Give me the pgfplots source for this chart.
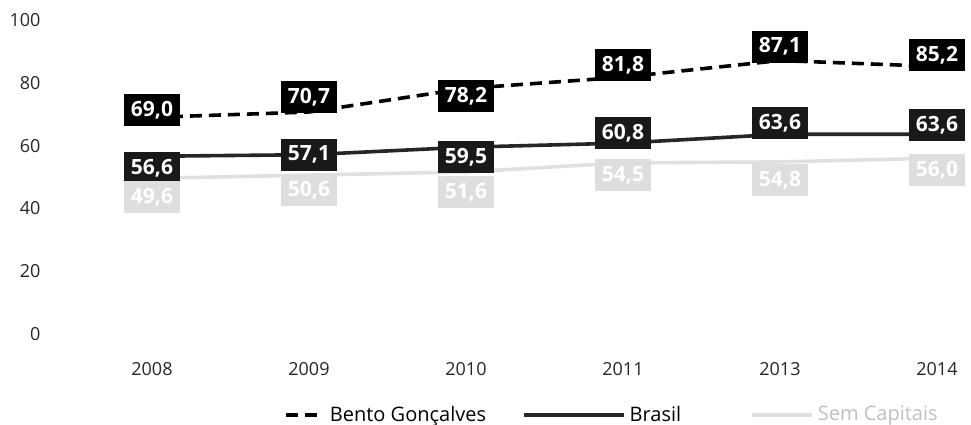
\documentclass[border=0pt]{standalone}
\usepackage{pgfplots}
\usepackage{pgfplotstable}
\pgfplotsset{compat=1.18}
\usepackage{fontspec}
\setmainfont{Open Sans}

\pgfplotsset{
  legA/.style={legend image code/.code={\draw[black, line width=1.8pt, dash pattern=on 6pt off 3.5pt] (0pt,0pt) -- (19pt,0pt);}},
  legB/.style={legend image code/.code={\draw[black!85, line width=1.8pt] (-30pt,0pt) -- (20pt,0pt);}},
  legC/.style={legend image code/.code={\path (-10pt,0pt); \draw[black!12, line width=1.8pt] (6.5pt,0pt) -- (36.5pt,0pt);}},
}

\pgfplotstableread{
x y dy lab
0 69.0 3.5 69,0
1 70.7 7.5 70,7
2 78.2 -4 78,2
3 81.8 6 81,8
4 87.1 7 87,1
5 85.2 5.5 85,2
}\bento
\pgfplotstableread{
x y dy lab
0 56.6 -6 56,6
1 57.1 0 57,1
2 59.5 -5 59,5
3 60.8 5 60,8
4 63.6 5.5 63,6
5 63.6 4.5 63,6
}\brasil
\pgfplotstableread{
x y dy lab
0 49.6 -9.5 49,6
1 50.6 -7.5 50,6
2 51.6 -10 51,6
3 54.5 -6 54,5
4 54.8 -9 54,8
5 56.0 -6 56,0
}\capitais

\begin{document}
\begin{tikzpicture}
\useasboundingbox (-25.75pt,-45pt) rectangle (459.75pt,167pt);
\begin{axis}[
  scale only axis, width=457.25pt, height=157pt,
  xmin=-0.64, xmax=5.185, ymin=0, ymax=100,
  xtick={0,1,2,3,4,5}, xticklabels={2008,2009,2010,2011,2013,2014},
  ytick={0,20,40,60,80,100},
  axis line style={draw=none}, tick style={draw=none},
  /pgf/number format/assume math mode=true,
  tick label style={font=\fontsize{9}{10}\selectfont, text=black!85},
  xticklabel style={yshift=-10.5pt},
  yticklabel style={xshift=-2pt},
  clip=false,
  legend style={at={(0.614,0)}, anchor=center, yshift=-40.5pt, draw=none, fill=none,
    font=\fontsize{10}{11}\selectfont, legend columns=3,
    /tikz/every even column/.append style={column sep=16pt}},
  nodes near coords,
  point meta=explicit symbolic,
  visualization depends on={\thisrow{dy} \as \dy},
  every node near coord/.append style={anchor=center, yshift=\dy pt,
    font=\bfseries\fontsize{10.5}{11}\selectfont, text=white, inner xsep=3.5pt,
    minimum height=16pt},
]
\addplot[black, line width=1.8pt, dash pattern=on 6pt off 3.5pt,
  nodes near coords style={fill=black}, legA]
  table[x=x, y=y, meta=lab]{\bento};
\addlegendentry{Bento Gonçalves}
\addplot[black!85, line width=1.8pt,
  nodes near coords style={fill=black!90}, legB]
  table[x=x, y=y, meta=lab]{\brasil};
\addlegendentry{Brasil}
\addplot[black!12, line width=1.8pt,
  nodes near coords style={fill=black!13, text=white}, legC]
  table[x=x, y=y, meta=lab]{\capitais};
\addlegendentry{\textcolor{black!25}{Sem Capitais}}
\end{axis}
\end{tikzpicture}
\end{document}
